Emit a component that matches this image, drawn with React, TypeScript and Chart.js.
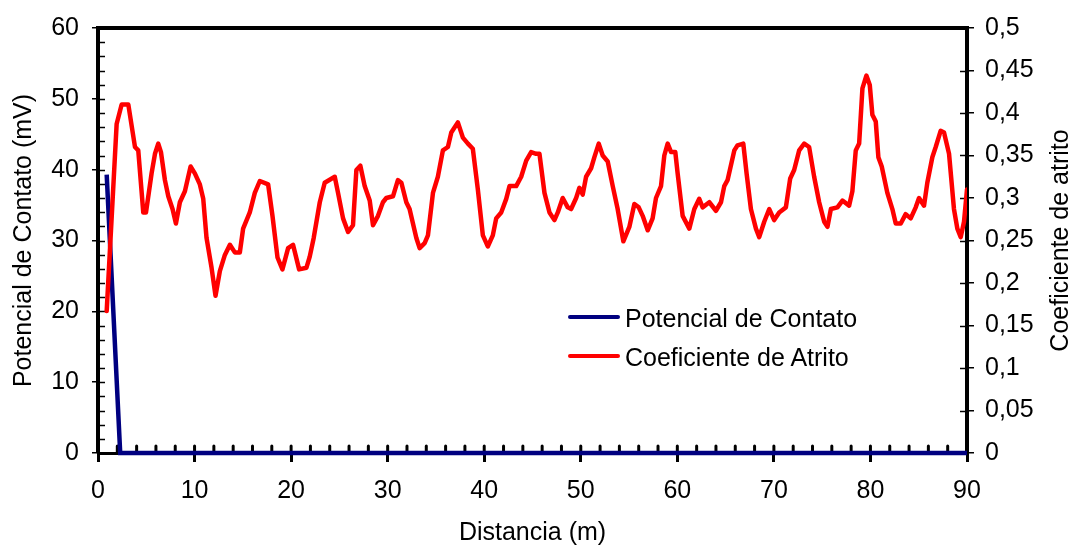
import React, { useEffect, useRef } from "react";
import { Chart, registerables } from "chart.js";

Chart.register(...registerables);

const FONT = "'Liberation Sans', Arial, Helvetica, sans-serif";

// Potencial de Contato (mV), left axis
const potentialX = [0.9, 2.3, 90];
const potentialY = [39.3, 0, 0];

// Coeficiente de Atrito, right axis
const frictionX = [
  0.9, 1.93, 2.45, 3.14, 3.83, 4.17, 4.69, 4.97, 5.55, 5.9, 6.24, 6.52, 6.93, 7.28, 7.72, 8.07, 8.48, 9.0, 9.59, 10.03,
  10.55, 10.9, 11.24, 11.76, 12.17, 12.62, 13.14, 13.66, 14.17, 14.69, 15.03, 15.72, 16.24, 16.76, 17.62, 18.07, 18.59, 19.1, 19.69, 20.2,
  20.83, 21.59, 21.93, 22.34, 22.97, 23.48, 24.52, 24.86, 25.38, 25.9, 26.41, 26.76, 27.17, 27.62, 28.14, 28.48, 29.0, 29.51, 29.86, 30.55,
  31.06, 31.42, 31.93, 32.27, 32.97, 33.31, 33.83, 34.17, 34.69, 35.2, 35.72, 36.24, 36.59, 37.27, 37.79, 38.31, 38.82, 39.34, 39.86, 40.37,
  40.89, 41.24, 41.76, 42.28, 42.62, 43.31, 43.83, 44.35, 44.86, 45.38, 45.72, 46.24, 46.76, 47.27, 47.62, 48.13, 48.65, 49.0, 49.52, 49.86,
  50.2, 50.55, 51.07, 51.41, 51.86, 52.27, 52.79, 53.31, 53.82, 54.41, 55.03, 55.55, 56.0, 56.41, 56.93, 57.44, 57.79, 58.31, 58.65, 59.0,
  59.35, 59.79, 60.03, 60.55, 61.24, 61.76, 62.27, 62.62, 63.31, 64.0, 64.52, 64.86, 65.2, 65.9, 66.24, 66.83, 67.17, 67.62, 68.14, 68.48,
  69.0, 69.52, 70.03, 70.55, 71.24, 71.69, 72.1, 72.62, 73.14, 73.65, 74.17, 74.69, 75.21, 75.55, 75.9, 76.58, 77.1, 77.79, 78.13, 78.48,
  78.83, 79.17, 79.58, 79.93, 80.2, 80.55, 80.82, 81.17, 81.75, 82.27, 82.62, 83.14, 83.65, 84.17, 84.69, 85.03, 85.55, 85.89, 86.41, 86.76,
  87.27, 87.62, 88.14, 88.65, 89.0, 89.35, 89.69, 90.0,
];
const frictionY = [
  0.167, 0.387, 0.41, 0.41, 0.36, 0.356, 0.283, 0.283, 0.329, 0.352, 0.364, 0.354, 0.321, 0.302, 0.287, 0.27, 0.295, 0.308, 0.337, 0.329,
  0.316, 0.299, 0.253, 0.218, 0.185, 0.214, 0.233, 0.245, 0.236, 0.236, 0.264, 0.283, 0.306, 0.32, 0.316, 0.279, 0.23, 0.216, 0.241, 0.245,
  0.216, 0.218, 0.231, 0.253, 0.295, 0.318, 0.325, 0.306, 0.276, 0.26, 0.268, 0.333, 0.338, 0.314, 0.297, 0.268, 0.279, 0.295, 0.3, 0.302,
  0.321, 0.318, 0.295, 0.287, 0.253, 0.241, 0.247, 0.256, 0.306, 0.325, 0.356, 0.36, 0.377, 0.389, 0.371, 0.364, 0.358, 0.31, 0.256, 0.243,
  0.256, 0.276, 0.283, 0.299, 0.314, 0.314, 0.325, 0.344, 0.354, 0.352, 0.352, 0.306, 0.283, 0.274, 0.283, 0.3, 0.289, 0.287, 0.3, 0.312,
  0.304, 0.325, 0.335, 0.348, 0.364, 0.35, 0.343, 0.314, 0.287, 0.249, 0.266, 0.293, 0.289, 0.279, 0.262, 0.276, 0.3, 0.314, 0.35, 0.364,
  0.354, 0.354, 0.329, 0.279, 0.264, 0.287, 0.299, 0.289, 0.295, 0.285, 0.295, 0.314, 0.321, 0.356, 0.362, 0.364, 0.329, 0.287, 0.264, 0.254,
  0.272, 0.287, 0.274, 0.283, 0.289, 0.323, 0.333, 0.356, 0.364, 0.36, 0.325, 0.295, 0.272, 0.266, 0.287, 0.289, 0.297, 0.291, 0.308, 0.356,
  0.364, 0.429, 0.444, 0.433, 0.398, 0.39, 0.348, 0.337, 0.306, 0.287, 0.27, 0.27, 0.281, 0.276, 0.289, 0.3, 0.291, 0.318, 0.348, 0.36,
  0.379, 0.377, 0.352, 0.287, 0.264, 0.254, 0.272, 0.31,
];

const seriesNames = ["Potencial de Contato", "Coeficiente de Atrito"];
const seriesColors = ["#000080", "#FF0000"];
const xTitle = "Distancia (m)";
const yTitle = "Potencial de Contato (mV)";
const y2Title = "Coeficiente de atrito";

const W = 1078;
const H = 554;

const framePlugin = {
  id: "frameAndInnerTicks",
  beforeDatasetsDraw(chart: any) {
    const { ctx, chartArea: a, scales } = chart;
    const xs = scales.x;
    const ys = scales.y;
    const y2s = scales.y2;
    ctx.save();
    ctx.strokeStyle = "#000";
    // top frame
    ctx.lineWidth = 4;
    ctx.beginPath();
    ctx.moveTo(a.left - 2, a.top);
    ctx.lineTo(a.right + 2, a.top);
    ctx.stroke();
    // left inner minor ticks
    ctx.lineWidth = 1.5;
    for (let v = ys.min; v <= ys.max + 1e-9; v += 2) {
      const p = Math.round(ys.getPixelForValue(v)) + 0.5;
      ctx.beginPath();
      ctx.moveTo(a.left, p);
      ctx.lineTo(a.left + 7, p);
      ctx.stroke();
    }
    // right inner ticks
    for (let i = 0; i <= 10; i++) {
      const p = Math.round(y2s.getPixelForValue(i * 0.05)) + 0.5;
      ctx.beginPath();
      ctx.moveTo(a.right - 7, p);
      ctx.lineTo(a.right, p);
      ctx.stroke();
    }
    // x axis inner ticks
    ctx.lineWidth = 3;
    ctx.lineCap = "round";
    for (let v = xs.min; v <= xs.max + 1e-9; v += 2) {
      const p = xs.getPixelForValue(v);
      ctx.beginPath();
      ctx.moveTo(p, a.bottom - 1);
      ctx.lineTo(p, a.bottom - 7);
      ctx.stroke();
    }
    ctx.restore();
  },
  afterDraw(chart: any) {
    const { ctx, chartArea: a } = chart;
    ctx.save();
    ctx.fillStyle = "#000";
    ctx.font = `25px ${FONT}`;
    ctx.textAlign = "center";
    ctx.textBaseline = "middle";
    ctx.translate(chart.width - 17, (a.top + a.bottom) / 2);
    ctx.rotate(-Math.PI / 2);
    ctx.fillText(y2Title, 0, 0);
    ctx.restore();
  },
};

export default function App() {
  const ref = useRef<HTMLCanvasElement>(null);

  useEffect(() => {
    const tickFont = { family: FONT, size: 25 };
    const chart = new Chart(ref.current as HTMLCanvasElement, {
      type: "line",
      data: {
        datasets: [
          {
            label: seriesNames[0],
            data: potentialX.map((x, i) => ({ x, y: potentialY[i] })),
            borderColor: seriesColors[0],
            backgroundColor: seriesColors[0],
            borderWidth: 4.5,
            pointRadius: 0,
            tension: 0,
            yAxisID: "y",
            order: 1,
            clip: 6,
          },
          {
            label: seriesNames[1],
            data: frictionX.map((x, i) => ({ x, y: frictionY[i] })),
            borderColor: seriesColors[1],
            backgroundColor: seriesColors[1],
            borderWidth: 4.5,
            borderJoinStyle: "round",
            borderCapStyle: "round",
            pointRadius: 0,
            tension: 0,
            yAxisID: "y2",
            order: 0,
          },
        ],
      },
      options: {
        animation: false,
        responsive: false,
        maintainAspectRatio: false,
        layout: { padding: { top: 18, left: 0, right: 0, bottom: 0 } },
        plugins: {
          legend: { display: false },
          tooltip: { enabled: false },
        },
        scales: {
          x: {
            type: "linear",
            min: 0,
            max: 90,
            afterFit: (s: any) => {
              s.height = 101;
            },
            grid: { display: true, drawOnChartArea: false, drawTicks: true, tickLength: 9, color: "#000", lineWidth: 3 },
            border: { display: true, color: "#000", width: 3 },
            ticks: { stepSize: 10, padding: 14, color: "#000", font: tickFont, maxRotation: 0, autoSkip: false },
            title: { display: true, text: xTitle, color: "#000", font: tickFont, padding: { top: 0, bottom: 6 } },
          },
          y: {
            type: "linear",
            position: "left",
            min: 0,
            max: 60,
            afterFit: (s: any) => {
              s.width = 98;
            },
            grid: { display: true, drawOnChartArea: false, drawTicks: true, tickLength: 6, color: "#000", lineWidth: 1.5 },
            border: { display: true, color: "#000", width: 4 },
            ticks: { stepSize: 10, padding: 13, color: "#000", font: tickFont, autoSkip: false },
            title: { display: true, text: yTitle, color: "#000", font: tickFont, padding: { top: 9, bottom: 0 } },
          },
          y2: {
            type: "linear",
            position: "right",
            min: 0,
            max: 0.5,
            afterFit: (s: any) => {
              s.width = 111;
            },
            grid: { display: true, drawOnChartArea: false, drawTicks: true, tickLength: 7, color: "#000", lineWidth: 1.5 },
            border: { display: true, color: "#000", width: 4 },
            ticks: {
              stepSize: 0.05,
              padding: 11,
              color: "#000",
              font: tickFont,
              autoSkip: false,
              callback: (v: any) => String(Number(Number(v).toFixed(2))).replace(".", ","),
            },
          },
        },
      },
      plugins: [framePlugin],
    } as any);
    return () => chart.destroy();
  }, []);

  const legendRow = (i: number, lineY: number, textTop: number) => (
    <React.Fragment key={i}>
      <div
        style={{
          position: "absolute",
          left: 568,
          top: lineY - 2,
          width: 52,
          height: 4,
          borderRadius: 2,
          background: seriesColors[i],
        }}
      />
      <div
        style={{
          position: "absolute",
          left: 625,
          top: textTop,
          fontFamily: FONT,
          fontSize: 25,
          lineHeight: "30px",
          color: "#000",
          whiteSpace: "nowrap",
        }}
      >
        {seriesNames[i]}
      </div>
    </React.Fragment>
  );

  return (
    <div style={{ position: "absolute", left: 0, top: 0, width: W, height: H, background: "#fff" }}>
      <canvas ref={ref} width={W} height={H} style={{ display: "block", width: W, height: H }} />
      {legendRow(0, 317, 303)}
      {legendRow(1, 356, 342)}
    </div>
  );
}
